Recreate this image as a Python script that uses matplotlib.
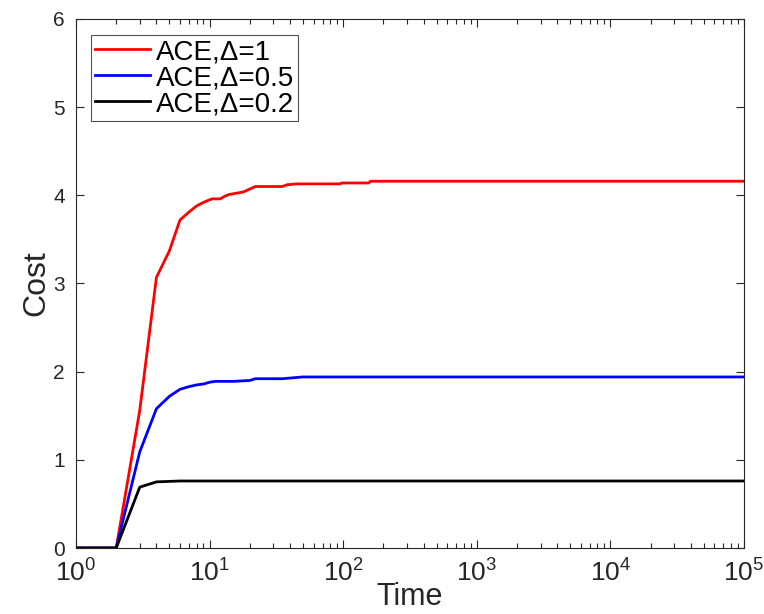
import matplotlib
matplotlib.use("Agg")
import matplotlib.pyplot as plt
import numpy as np

plt.rcParams['font.family'] = ['Liberation Sans', 'DejaVu Sans']
plt.rcParams['mathtext.fontset'] = 'custom'
plt.rcParams['mathtext.rm'] = 'Liberation Sans'
plt.rcParams['mathtext.it'] = 'Liberation Sans'

# Data
t_red = [1, 2, 3, 4, 5, 6, 7, 8, 9, 10, 10.5, 12, 13, 14, 16.7, 18, 22, 35, 38, 45, 95, 97, 155, 160, 1e5]
y_red = [0, 0, 1.56, 3.07, 3.37, 3.72, 3.81, 3.88, 3.92, 3.95, 3.96, 3.96, 3.99, 4.01, 4.03, 4.04, 4.10, 4.10, 4.12, 4.13, 4.13, 4.14, 4.14, 4.16, 4.16]

t_blue = [1, 2, 3, 4, 5, 6, 7, 8, 9, 10, 11, 15, 20, 22, 35, 50, 1e5]
y_blue = [0, 0, 1.09, 1.58, 1.72, 1.80, 1.83, 1.85, 1.86, 1.88, 1.89, 1.89, 1.90, 1.92, 1.92, 1.94, 1.94]

t_black = [1, 2, 3, 4, 6, 8, 1e5]
y_black = [0, 0, 0.69, 0.75, 0.76, 0.76, 0.76]

labels = ['ACE,Δ=1', 'ACE,Δ=0.5', 'ACE,Δ=0.2']
colors = ['#ff0000', '#0000ff', '#000000']

fig = plt.figure(figsize=(7.64, 6.14), dpi=100)
ax = fig.add_axes([76/764, 66/614, 668/764, 529/614])

for t, y, lab, c in zip([t_red, t_blue, t_black], [y_red, y_blue, y_black], labels, colors):
    ax.plot(t, y, color=c, lw=2.0, label=lab)

ax.set_xscale('log')
ax.set_xlim(1, 1e5)
ax.set_ylim(0, 6)
ax.set_yticks([0, 1, 2, 3, 4, 5, 6])

gray = '#262626'
for s in ax.spines.values():
    s.set_color(gray)
    s.set_linewidth(0.8)
ax.tick_params(which='both', direction='in', top=True, right=True, colors=gray, labelcolor=gray)
ax.tick_params(which='major', length=6, width=0.8)
ax.tick_params(which='minor', length=3.5, width=0.8)
ax.tick_params(axis='x', pad=8, labelsize=19)
ax.tick_params(axis='y', pad=8, labelsize=15)

ax.set_xlabel('Time', fontsize=22, color=gray, labelpad=-3)
ax.set_ylabel('Cost', fontsize=23, color=gray, labelpad=1.5)

leg = ax.legend(loc='upper left', bbox_to_anchor=(0.022, 0.97), fontsize=20, frameon=True,
                fancybox=False, handlelength=2.0, handletextpad=0.2, borderpad=0.15,
                labelspacing=0.0, borderaxespad=0)
leg.get_frame().set_edgecolor(gray)
leg.get_frame().set_linewidth(0.8)

fig.savefig('out.png', dpi=100)
